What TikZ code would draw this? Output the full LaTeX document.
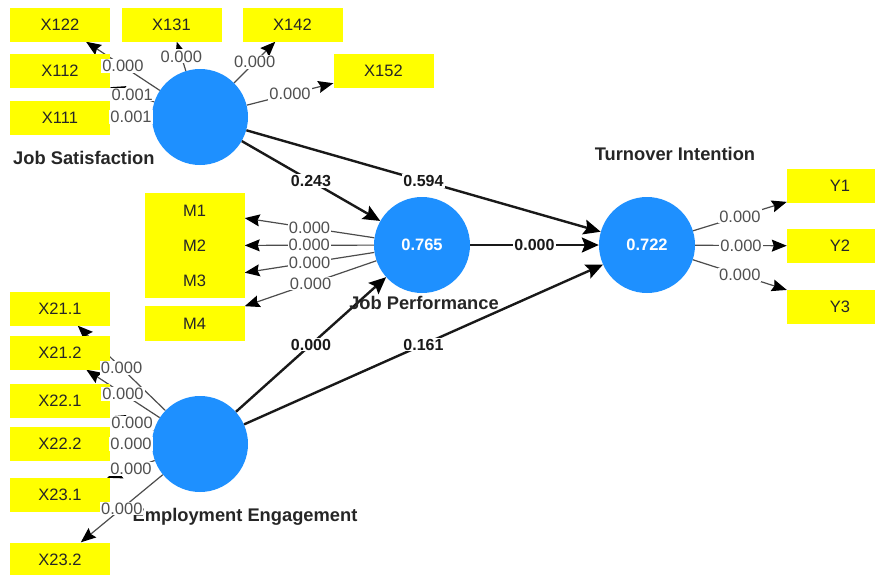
\documentclass[tikz,border=0pt]{standalone}
\usepackage{fontspec}
\setmainfont{Liberation Sans}
\usetikzlibrary{arrows.meta}
\pgfdeclarelayer{bg}
\pgfdeclarelayer{fg}
\pgfsetlayers{bg,main,fg}
\definecolor{indyellow}{RGB}{255,255,0}
\definecolor{lvblue}{RGB}{30,144,255}
\definecolor{lblgray}{RGB}{80,80,80}

\begin{document}
\begin{tikzpicture}[x=1pt,y=-1pt,
  ind/.style={fill=indyellow, minimum width=100pt, minimum height=34pt, inner sep=0pt,
    font=\fontsize{16.5}{18}\selectfont, text=black!85},
  indwide/.style={ind, minimum width=106pt},
  lv/.style={circle, fill=lvblue, minimum size=96pt, inner sep=0pt, text=white,
    font=\bfseries\fontsize{16.5}{18}\selectfont},
  lvname/.style={font=\bfseries\fontsize{18.3}{20}\selectfont, text=black!85, inner sep=0pt},
  outer/.style={draw=black!70, line width=1.2pt, -{Stealth[length=15pt,width=12pt,inset=2pt,black]}},
  inner/.style={draw=black!90, line width=2.4pt, -{Stealth[length=17pt,width=15pt,inset=3pt,black]}},
  olbl/.style={fill=white, inner sep=1pt, text=lblgray, font=\fontsize{16.5}{18}\selectfont},
  ilbl/.style={fill=white, inner sep=1pt, text=black!90, font=\bfseries\fontsize{16}{18}\selectfont}
]
\useasboundingbox (0,0) rectangle (875,574);
\clip (0,0) rectangle (875,574);

% latent variables
\node[lv] (js) at (200,117) {};
\node[lv] (jp) at (422,245) {0.765};
\node[lv] (ti) at (647,245) {0.722};
\node[lv] (ee) at (200,444) {};

% indicators of Job Satisfaction
\node[ind] (x122) at (60,24.5)   {X122};
\node[ind] (x131) at (171.5,24.5){X131};
\node[ind] (x142) at (292.5,24.5){X142};
\node[ind] (x112) at (60,70.5)   {X112};
\node[ind] (x152) at (383.5,70.5){X152};
\node[ind] (x111) at (60,117.5)  {X111};

% indicators of Job Performance
\node[ind, minimum height=35pt] (m1) at (194.5,210.5) {M1};
\node[ind, minimum height=35pt] (m2) at (194.5,245.5) {M2};
\node[ind, minimum height=35pt] (m3) at (194.5,280.5) {M3};
\node[ind, minimum height=35pt] (m4) at (194.5,323.5) {M4};

% indicators of Turnover Intention
\node[indwide] (y1) at (840,185.5) {Y1};
\node[indwide] (y2) at (840,246)   {Y2};
\node[indwide] (y3) at (840,307)   {Y3};

% indicators of Employment Engagement
\node[ind] (x211) at (60,308.5) {X21.1};
\node[ind] (x212) at (60,352.5) {X21.2};
\node[ind] (x221) at (60,401)   {X22.1};
\node[ind] (x222) at (60,444)   {X22.2};
\node[ind] (x231) at (60,495)   {X23.1};
\node[ind] (x232) at (60,559.5) {X23.2};

% construct names
\node[lvname, anchor=west] (njs) at (13,158) {Job Satisfaction};
\node[lvname] (njp) at (424,303) {Job Performance};
\node[lvname] (nti) at (675,154) {Turnover Intention};
\node[lvname] (nee) at (245,517) {Employment Engagement};

% connectors, beneath the boxes
\begin{pgfonlayer}{bg}
  \draw[outer] (js) -- coordinate[midway] (c-x122) (x122);
  \draw[outer] (js) -- coordinate[midway] (c-x131) (x131);
  \draw[outer] (js) -- coordinate[midway] (c-x142) (x142);
  \draw[outer] (js) -- coordinate[midway] (c-x152) (x152);
  \draw[outer] (js) -- coordinate[midway] (c-x112) (x112);
  \draw[outer] (js) -- coordinate[midway] (c-x111) (x111);

  \draw[outer] (jp) -- coordinate[midway] (c-m1) (m1);
  \draw[outer] (jp) -- coordinate[midway] (c-m2) (m2);
  \draw[outer] (jp) -- coordinate[midway] (c-m3) (m3);
  \draw[outer] (jp) -- coordinate[midway] (c-m4) (m4);

  \draw[outer] (ti) -- coordinate[midway] (c-y1) (y1);
  \draw[outer] (ti) -- coordinate[midway] (c-y2) (y2);
  \draw[outer] (ti) -- coordinate[midway] (c-y3) (y3);

  \draw[outer] (ee) -- coordinate[midway] (c-x211) (x211);
  \draw[outer] (ee) -- coordinate[midway] (c-x212) (x212);
  \draw[outer] (ee) -- coordinate[midway] (c-x221) (x221);
  \draw[outer] (ee) -- coordinate[midway] (c-x222) (x222);
  \draw[outer] (ee) -- coordinate[midway] (c-x231) (x231);
  \draw[outer] (ee) -- coordinate[midway] (c-x232) (x232);

  \draw[inner] (js) -- coordinate[midway] (c-jsjp) (jp);
  \draw[inner] (js) -- coordinate[midway] (c-jsti) (ti);
  \draw[inner] (jp) -- coordinate[midway] (c-jpti) (ti);
  \draw[inner] (ee) -- coordinate[midway] (c-eejp) (jp);
  \draw[inner] (ee) -- coordinate[midway] (c-eeti) (ti);
\end{pgfonlayer}

% path values, above everything
\begin{pgfonlayer}{fg}
  \node[olbl] at (c-x122) {0.000};
  \node[olbl] at (c-x131) {0.000};
  \node[olbl] at (c-x142) {0.000};
  \node[olbl] at (c-x152) {0.000};
  \node[olbl] at (c-x112) {0.001};
  \node[olbl] at (c-x111) {0.001};

  \node[olbl] at (c-m1) {0.000};
  \node[olbl] at (c-m2) {0.000};
  \node[olbl] at (c-m3) {0.000};
  \node[olbl] at (c-m4) {0.000};

  \node[olbl] at (c-y1) {0.000};
  \node[olbl] at (c-y2) {0.000};
  \node[olbl] at (c-y3) {0.000};

  \node[olbl] at (c-x211) {0.000};
  \node[olbl] at (c-x212) {0.000};
  \node[olbl] at (c-x221) {0.000};
  \node[olbl] at (c-x222) {0.000};
  \node[olbl] at (c-x231) {0.000};
  \node[olbl] at (c-x232) {0.000};

  \node[ilbl] at (c-jsjp) {0.243};
  \node[ilbl] at (c-jsti) {0.594};
  \node[ilbl] at (c-jpti) {0.000};
  \node[ilbl] at (c-eejp) {0.000};
  \node[ilbl] at (c-eeti) {0.161};
\end{pgfonlayer}
\end{tikzpicture}
\end{document}
